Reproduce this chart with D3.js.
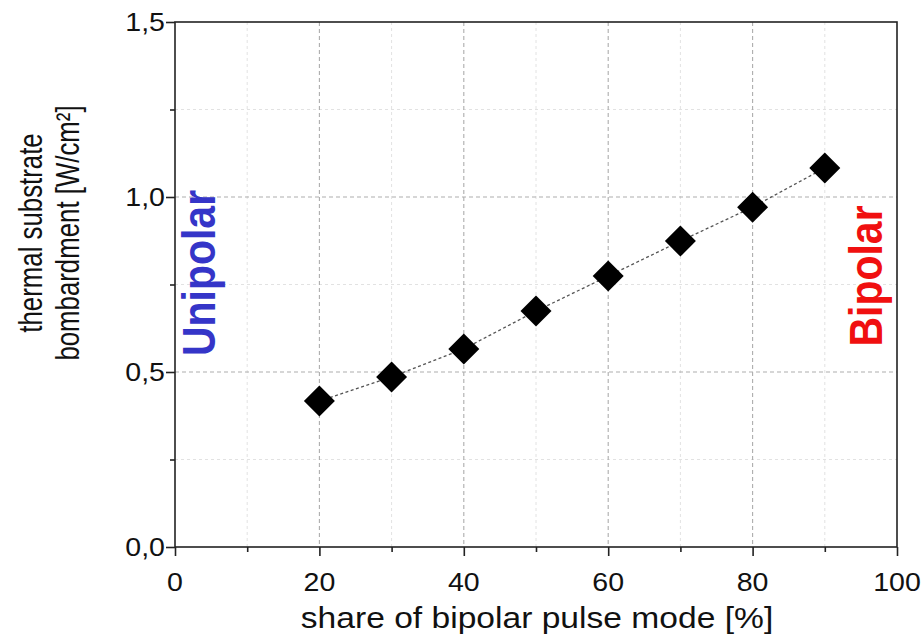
<!DOCTYPE html>
<html>
<head>
<meta charset="utf-8">
<script src="https://cdn.jsdelivr.net/npm/d3@7"></script>
<style>
  html, body { margin: 0; padding: 0; background: #fff; }
  svg { display: block; }
  text { font-family: "Liberation Sans", Arial, sans-serif; }
</style>
</head>
<body>
<svg id="chart" width="924" height="641"></svg>
<script>
// Share of bipolar pulse mode [%]
const shareBipolar = [20, 30, 40, 50, 60, 70, 80, 90];
// Thermal substrate bombardment [W/cm²]
const bombardment = [0.417, 0.486, 0.566, 0.674, 0.774, 0.874, 0.971, 1.083];

const xMajorTicks = [0, 20, 40, 60, 80, 100];
const xMinorTicks = [10, 30, 50, 70, 90];
const yMajorTicks = [0, 0.5, 1.0, 1.5];
const yMinorTicks = [0.25, 0.75, 1.25];

const xTitle = "share of bipolar pulse mode [%]";
const yTitleLines = ["thermal substrate", "bombardment [W/cm²]"];
const leftTag = "Unipolar";
const rightTag = "Bipolar";

const svg = d3.select("#chart");
const plot = { left: 175, right: 897, top: 22, bottom: 547 };
const stretch = 1.12; // glyphs are drawn a little wider than tall

const x = d3.scaleLinear().domain([0, 100]).range([plot.left, plot.right]);
const y = d3.scaleLinear().domain([0, 1.5]).range([plot.bottom, plot.top]);
const fmt = d => d3.format(".1f")(d).replace(".", ",");

// grid: faint minor lines, dashed major lines
const grid = svg.append("g");
grid.selectAll(".vmin").data(xMinorTicks).join("line")
  .attr("x1", d => x(d)).attr("x2", d => x(d))
  .attr("y1", plot.top).attr("y2", plot.bottom)
  .attr("stroke", "#e2e2e2").attr("stroke-width", 1).attr("stroke-dasharray", "3,3");
grid.selectAll(".hmin").data(yMinorTicks).join("line")
  .attr("x1", plot.left).attr("x2", plot.right)
  .attr("y1", d => y(d)).attr("y2", d => y(d))
  .attr("stroke", "#e2e2e2").attr("stroke-width", 1).attr("stroke-dasharray", "3,3");
grid.selectAll(".vmaj").data(xMajorTicks.filter(d => d > 0 && d < 100)).join("line")
  .attr("x1", d => x(d)).attr("x2", d => x(d))
  .attr("y1", plot.top).attr("y2", plot.bottom)
  .attr("stroke", "#adadad").attr("stroke-width", 1.1).attr("stroke-dasharray", "4,3");
grid.selectAll(".hmaj").data(yMajorTicks.filter(d => d > 0 && d < 1.5)).join("line")
  .attr("x1", plot.left).attr("x2", plot.right)
  .attr("y1", d => y(d)).attr("y2", d => y(d))
  .attr("stroke", "#adadad").attr("stroke-width", 1.1).attr("stroke-dasharray", "4,3");

// connecting dashed line
const line = d3.line().x((d, i) => x(shareBipolar[i])).y(d => y(d));
svg.append("path").datum(bombardment)
  .attr("d", line).attr("fill", "none")
  .attr("stroke", "#555").attr("stroke-width", 1.3).attr("stroke-dasharray", "3,2.5");

// diamond markers
const diamond = d3.symbol().type(d3.symbolSquare).size(480);
svg.selectAll(".pt").data(bombardment).join("path")
  .attr("d", diamond)
  .attr("transform", (d, i) => `translate(${x(shareBipolar[i])},${y(d)}) rotate(45)`)
  .attr("fill", "#000");

// frame
svg.append("rect")
  .attr("x", plot.left).attr("y", plot.top)
  .attr("width", plot.right - plot.left).attr("height", plot.bottom - plot.top)
  .attr("fill", "none").attr("stroke", "#222").attr("stroke-width", 1.6);

// axes with outward ticks
const xAxisMajor = d3.axisBottom(x).tickValues(xMajorTicks).tickSize(9).tickFormat("");
const xAxisMinor = d3.axisBottom(x).tickValues(xMinorTicks).tickSize(5).tickFormat("");
const yAxisMajor = d3.axisLeft(y).tickValues(yMajorTicks).tickSize(9).tickFormat("");
const yAxisMinor = d3.axisLeft(y).tickValues(yMinorTicks).tickSize(5).tickFormat("");
[[xAxisMajor, `translate(0,${plot.bottom})`], [xAxisMinor, `translate(0,${plot.bottom})`],
 [yAxisMajor, `translate(${plot.left},0)`], [yAxisMinor, `translate(${plot.left},0)`]]
  .forEach(([ax, tr]) => {
    const g = svg.append("g").attr("transform", tr).call(ax);
    g.select(".domain").remove();
    g.selectAll(".tick line").attr("stroke", "#222").attr("stroke-width", 1.6);
  });

// helper: text with separate scaling along and across the writing direction
function label(px, py, str, opts) {
  const o = Object.assign({ size: 25, anchor: "middle", rotate: 0, weight: "normal",
                            fill: "#111", along: 1, across: 1 }, opts);
  // rotate first, then scale in the text's own frame
  let sx, sy;
  if (o.rotate === 0) { sx = stretch * o.along; sy = o.across; }
  else { sx = o.along; sy = stretch * o.across; }
  svg.append("g")
    .attr("transform", `translate(${px},${py}) rotate(${o.rotate}) scale(${sx},${sy})`)
    .append("text")
    .attr("text-anchor", o.anchor)
    .attr("font-size", o.size)
    .attr("font-weight", o.weight)
    .attr("fill", o.fill)
    .attr("dy", o.dy || 0)
    .text(str);
}

// tick labels
xMajorTicks.forEach(t => label(x(t), 591, String(t), { size: 25.5 }));
yMajorTicks.forEach(t => label(plot.left - 10, y(t), fmt(t), { size: 25.5, anchor: "end", dy: "0.36em" }));

// axis titles
label(537, 628, xTitle, { size: 30 });
label(42, 233, yTitleLines[0], { size: 29, rotate: -90, along: 0.89 });
label(79, 233, yTitleLines[1], { size: 29, rotate: -90, along: 0.89 });

// regime tags
label(215, 273, leftTag, { size: 41, rotate: -90, weight: "bold", fill: "#3535c8" });
label(882, 276, rightTag, { size: 41, rotate: -90, weight: "bold", fill: "#f01010" });
</script>
</body>
</html>
